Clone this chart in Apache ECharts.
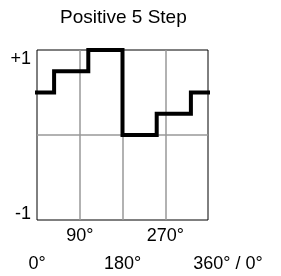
<!DOCTYPE html>
<html>
<head>
<meta charset="utf-8">
<script src="https://cdn.jsdelivr.net/npm/echarts@6/dist/echarts.min.js"></script>
<style>
  html, body { margin: 0; padding: 0; background: #fff; }
  #chart { width: 281px; height: 276px; }
</style>
</head>
<body>
<div id="chart"></div>
<script>
var titleText = 'Positive 5 Step';
// step edges in degrees and the level held from each edge to the next
var stepEdges = [0, 36, 108, 180, 252, 324, 360];
var stepLevels = [0.5, 0.75, 1, 0, 0.25, 0.5, 0.5];
var xTicks = [0, 90, 180, 270, 360];
var xTickLabels = ['0°', '90°', '180°', '270°', '360° / 0°'];
var yTickLabels = { '-1': '-1', '0': '', '1': '+1' };

var points = [];
for (var i = 0; i < stepEdges.length; i++) {
  points.push([stepEdges[i], stepLevels[i]]);
}

var chart = echarts.init(document.getElementById('chart'));
chart.setOption({
  animation: false,
  textStyle: { fontFamily: 'Liberation Sans, Arial, sans-serif' },
  title: {
    text: titleText,
    left: 60,
    top: 8,
    padding: 0,
    textStyle: { fontSize: 19, fontWeight: 'normal', color: '#000', fontFamily: 'Liberation Sans, Arial, sans-serif' }
  },
  grid: {
    left: 37, top: 50, width: 171, height: 170,
    show: true, borderColor: '#000', borderWidth: 1,
    containLabel: false
  },
  xAxis: {
    type: 'value', min: 0, max: 360, interval: 90,
    axisLine: { show: false },
    axisTick: { show: false },
    splitLine: { show: true, showMinLine: false, showMaxLine: false, lineStyle: { color: '#999', width: 1.5 } },
    axisLabel: {
      margin: 7,
      fontSize: 18,
      color: '#000',
      showMinLabel: true, showMaxLabel: true,
      formatter: function (v) {
        var k = xTicks.indexOf(v);
        if (k < 0) return '';
        if (k % 2 === 1) return '{u|' + xTickLabels[k] + '}';
        if (k === xTicks.length - 1) return '{w|' + xTickLabels[k] + '}';
        return '{d|' + xTickLabels[k] + '}';
      },
      rich: {
        u: { fontSize: 18, color: '#000' },
        d: { fontSize: 18, color: '#000', padding: [28, 0, 0, 0] },
        w: { fontSize: 18, color: '#000', padding: [28, 0, 0, 40] }
      }
    }
  },
  yAxis: {
    type: 'value', min: -1, max: 1, interval: 1,
    axisLine: { show: false },
    axisTick: { show: false },
    splitLine: { show: true, showMinLine: false, showMaxLine: false, lineStyle: { color: '#999', width: 1.5 } },
    axisLabel: {
      margin: 6,
      fontSize: 18,
      color: '#000',
      verticalAlignMinLabel: 'bottom',
      verticalAlignMaxLabel: 'top',
      formatter: function (v) {
        var s = yTickLabels[String(v)];
        return v < 0 ? '{m|' + s + '}' : s;
      },
      rich: {
        m: { fontSize: 18, color: '#000', lineHeight: 12 }
      }
    }
  },
  series: [{
    type: 'line',
    step: 'end',
    data: points,
    symbol: 'none',
    lineStyle: { color: '#000', width: 4, cap: 'square', join: 'miter' },
    z: 5
  }]
});
</script>
</body>
</html>
